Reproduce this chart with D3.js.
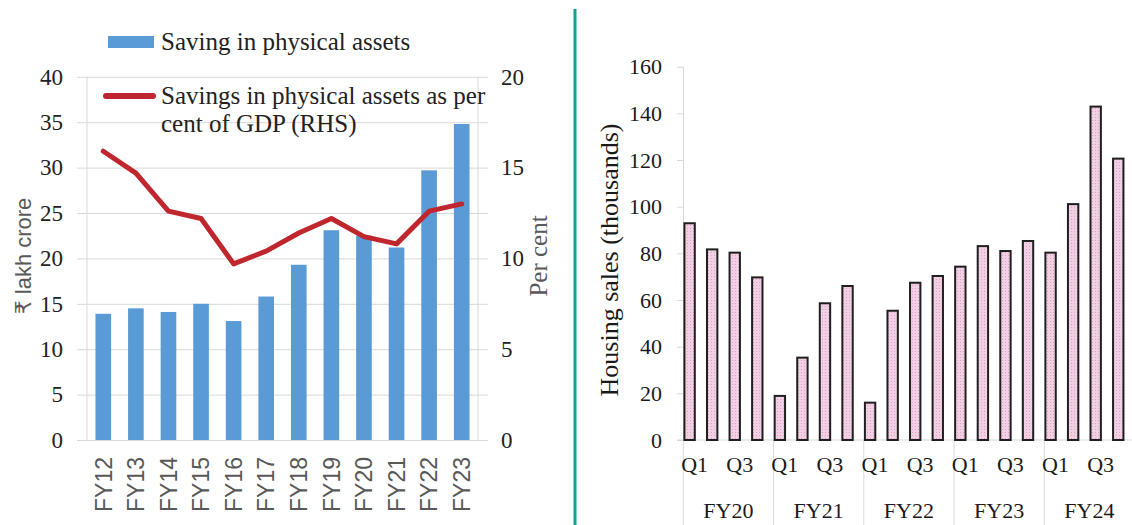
<!DOCTYPE html>
<html>
<head>
<meta charset="utf-8">
<script src="https://cdn.jsdelivr.net/npm/d3@7"></script>
<style>
  body { margin: 0; background: #fff; }
  svg { display: block; }
</style>
</head>
<body>
<div id="chart"></div>
<script>
// left panel: physical savings
const years = ['FY12', 'FY13', 'FY14', 'FY15', 'FY16', 'FY17', 'FY18', 'FY19', 'FY20', 'FY21', 'FY22', 'FY23'];
const physicalSavings = [13.9, 14.5, 14.1, 15.0, 13.1, 15.8, 19.3, 23.1, 22.5, 21.2, 29.7, 34.8];
const savingsPctGdp = [15.9, 14.7, 12.6, 12.2, 9.7, 10.4, 11.4, 12.2, 11.2, 10.8, 12.6, 13.0];
const leftTicks = [0, 5, 10, 15, 20, 25, 30, 35, 40];
const rightTicks = [0, 5, 10, 15, 20];

// right panel: housing sales
const fiscalYears = ['FY20', 'FY21', 'FY22', 'FY23', 'FY24'];
const quarters = ['Q1', 'Q2', 'Q3', 'Q4'];
const quarterLabels = ['Q1', '', 'Q3', ''];
const housingSales = [92.9, 81.7, 80.3, 69.7, 18.9, 35.3, 58.6, 66.0, 16.0, 55.4, 67.4, 70.3,
                      74.3, 83.1, 81.0, 85.3, 80.3, 101.1, 142.9, 120.6];
const salesTicks = [0, 20, 40, 60, 80, 100, 120, 140, 160];

document.addEventListener('DOMContentLoaded', () => {

  const width = 1132;
  const height = 525;
  const grid = '#d9d9d9';
  const serif = "'Liberation Serif', 'Times New Roman', serif";
  const sans = "'Liberation Sans', 'DejaVu Sans', sans-serif";

  const svg = d3.select('#chart')
                .append('svg')
                .attr('width', width)
                .attr('height', height);

  // ---------- left chart ----------
  const xLeft = d3.scaleBand()
                  .domain(years)
                  .range([87, 478])
                  .paddingInner(0.52)
                  .paddingOuter(0.26);

  const yLeft = d3.scaleLinear().domain([0, 40]).range([440, 76.8]);
  const yRight = d3.scaleLinear().domain([0, 20]).range([440, 76.8]);

  // gridlines
  svg.append('g')
     .attr('transform', 'translate(77,0)')
     .call(d3.axisLeft(yLeft).tickValues(leftTicks).tickSize(-(488 - 77)).tickFormat(''))
     .call((g) => g.select('.domain').remove())
     .call((g) => g.selectAll('line').attr('stroke', grid));

  svg.append('line')
     .attr('x1', 87).attr('x2', 87)
     .attr('y1', yLeft(40)).attr('y2', yLeft(0))
     .attr('stroke', grid);
  svg.append('line')
     .attr('x1', 478).attr('x2', 478)
     .attr('y1', yLeft(40)).attr('y2', yLeft(0))
     .attr('stroke', grid);

  // left tick labels
  svg.append('g')
     .attr('transform', 'translate(77,0)')
     .call(d3.axisLeft(yLeft).tickValues(leftTicks).tickSize(0).tickPadding(14))
     .call((g) => g.select('.domain').remove())
     .selectAll('text')
     .style('font-family', serif)
     .style('font-size', '23px')
     .attr('fill', '#222');

  // right tick labels
  svg.append('g')
     .attr('transform', 'translate(488,0)')
     .call(d3.axisRight(yRight).tickValues(rightTicks).tickSize(0).tickPadding(13))
     .call((g) => g.select('.domain').remove())
     .selectAll('text')
     .style('font-family', serif)
     .style('font-size', '23px')
     .attr('fill', '#222');

  // bars
  svg.append('g')
     .selectAll('rect')
     .data(years)
     .enter()
     .append('rect')
     .attr('x', (d) => xLeft(d))
     .attr('width', xLeft.bandwidth())
     .attr('y', (d, i) => yLeft(physicalSavings[i]))
     .attr('height', (d, i) => yLeft(0) - yLeft(physicalSavings[i]))
     .attr('fill', '#5b9bd5');

  // x labels (rotated)
  svg.append('g')
     .attr('transform', 'translate(0,440)')
     .call(d3.axisBottom(xLeft).tickSize(0))
     .call((g) => g.select('.domain').remove())
     .selectAll('text')
     .style('font-family', sans)
     .style('font-size', '23px')
     .attr('fill', '#595959')
     .attr('transform', 'rotate(-90)')
     .attr('text-anchor', 'end')
     .attr('x', -17)
     .attr('y', 0)
     .attr('dy', '0.36em');

  // RHS line
  const pctLine = d3.line()
                    .x((d, i) => xLeft(years[i]) + xLeft.bandwidth() / 2)
                    .y((d) => yRight(d));

  svg.append('path')
     .datum(savingsPctGdp)
     .attr('d', pctLine)
     .attr('fill', 'none')
     .attr('stroke', '#c0262d')
     .attr('stroke-width', 5)
     .attr('stroke-linejoin', 'round')
     .attr('stroke-linecap', 'round');

  // legend
  svg.append('rect')
     .attr('x', 108).attr('y', 36)
     .attr('width', 46).attr('height', 12)
     .attr('fill', '#5b9bd5');
  svg.append('text')
     .attr('x', 161).attr('y', 50)
     .style('font-family', serif)
     .style('font-size', '25px')
     .attr('fill', '#222')
     .text('Saving in physical assets');
  svg.append('line')
     .attr('x1', 106).attr('x2', 153)
     .attr('y1', 96).attr('y2', 96)
     .attr('stroke', '#c0262d')
     .attr('stroke-width', 6)
     .attr('stroke-linecap', 'round');
  svg.append('text')
     .attr('x', 161).attr('y', 104)
     .style('font-family', serif)
     .style('font-size', '25px')
     .attr('fill', '#222')
     .text('Savings in physical assets as per');
  svg.append('text')
     .attr('x', 161).attr('y', 132)
     .style('font-family', serif)
     .style('font-size', '25px')
     .attr('fill', '#222')
     .text('cent of GDP (RHS)');

  // axis titles
  svg.append('text')
     .attr('transform', 'translate(23,256) rotate(-90)')
     .attr('text-anchor', 'middle')
     .attr('dy', '0.35em')
     .style('font-family', sans)
     .style('font-size', '22px')
     .attr('fill', '#595959')
     .text('₹ lakh crore');
  svg.append('text')
     .attr('transform', 'translate(538,256) rotate(-90)')
     .attr('text-anchor', 'middle')
     .attr('dy', '0.35em')
     .style('font-family', serif)
     .style('font-size', '25px')
     .attr('fill', '#595959')
     .text('Per cent');

  // divider
  svg.append('line')
     .attr('x1', 575).attr('x2', 575)
     .attr('y1', 9).attr('y2', height)
     .attr('stroke', '#17a08d')
     .attr('stroke-width', 3);

  // ---------- right chart ----------
  const periods = [];
  fiscalYears.forEach((fy) => quarters.forEach((q) => periods.push(fy + ' ' + q)));

  const xQ = d3.scaleBand()
               .domain(periods)
               .range([683.3, 683.3 + 20 * 22.56]);

  const yQ = d3.scaleLinear().domain([0, 160]).range([440, 66.7]);

  const defs = svg.append('defs');
  const pattern = defs.append('pattern')
                      .attr('id', 'pinkDots')
                      .attr('width', 3)
                      .attr('height', 3)
                      .attr('patternUnits', 'userSpaceOnUse');
  pattern.append('rect').attr('width', 3).attr('height', 3).attr('fill', '#f2d0e3');
  pattern.append('rect').attr('width', 1).attr('height', 1).attr('fill', '#dea3c4');

  // y axis
  svg.append('g')
     .attr('transform', 'translate(683,0)')
     .call(d3.axisLeft(yQ).tickValues(salesTicks).tickSize(6).tickSizeOuter(0).tickPadding(15))
     .call((g) => g.select('.domain').attr('stroke', grid))
     .call((g) => g.selectAll('line').attr('stroke', grid))
     .selectAll('text')
     .style('font-family', serif)
     .style('font-size', '22px')
     .attr('fill', '#1a1a1a');

  // baseline
  svg.append('line')
     .attr('x1', 677).attr('x2', width)
     .attr('y1', 440).attr('y2', 440)
     .attr('stroke', grid);

  // group separators
  svg.append('g')
     .selectAll('line')
     .data(fiscalYears.concat(['end']))
     .enter()
     .append('line')
     .attr('x1', (d, i) => i < fiscalYears.length ? xQ(periods[i * 4]) : xQ.range()[1])
     .attr('x2', (d, i) => i < fiscalYears.length ? xQ(periods[i * 4]) : xQ.range()[1])
     .attr('y1', 440)
     .attr('y2', height)
     .attr('stroke', grid);

  // bars
  svg.append('g')
     .selectAll('rect')
     .data(periods)
     .enter()
     .append('rect')
     .attr('x', (d) => xQ(d) + xQ.bandwidth() * 0.05)
     .attr('width', xQ.bandwidth() * 0.46)
     .attr('y', (d, i) => yQ(housingSales[i]))
     .attr('height', (d, i) => yQ(0) - yQ(housingSales[i]))
     .attr('fill', 'url(#pinkDots)')
     .attr('stroke', '#1f1f1f')
     .attr('stroke-width', 2);

  // quarter labels
  svg.append('g')
     .selectAll('text')
     .data(periods)
     .enter()
     .append('text')
     .attr('x', (d) => xQ(d) + xQ.bandwidth() / 2)
     .attr('y', 472)
     .attr('text-anchor', 'middle')
     .style('font-family', serif)
     .style('font-size', '22px')
     .attr('fill', '#1a1a1a')
     .text((d, i) => quarterLabels[i % 4]);

  // fiscal year labels
  svg.append('g')
     .selectAll('text')
     .data(fiscalYears)
     .enter()
     .append('text')
     .attr('x', (d, i) => xQ(periods[i * 4]) + xQ.bandwidth() * 2)
     .attr('y', 518)
     .attr('text-anchor', 'middle')
     .style('font-family', serif)
     .style('font-size', '22px')
     .attr('fill', '#1a1a1a')
     .text((d) => d);

  svg.append('text')
     .attr('transform', 'translate(609,260) rotate(-90)')
     .attr('text-anchor', 'middle')
     .attr('dy', '0.35em')
     .style('font-family', serif)
     .style('font-size', '26px')
     .attr('fill', '#1a1a1a')
     .text('Housing sales (thousands)');

});
</script>
</body>
</html>
